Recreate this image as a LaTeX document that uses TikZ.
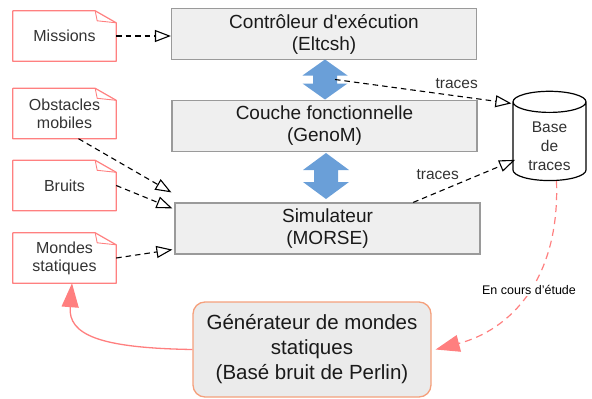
\documentclass[tikz,border=0pt]{standalone}
\usepackage{fontspec}
\setmainfont{Liberation Sans}[Ligatures=TeXOff]
\usetikzlibrary{arrows.meta,shapes.geometric,calc}
\definecolor{boxfill}{HTML}{EFEFEF}
\definecolor{boxline}{HTML}{9A9A9A}
\definecolor{notered}{HTML}{FF8080}
\definecolor{curvered}{HTML}{FF7F7F}
\definecolor{genline}{HTML}{F5A07C}
\definecolor{genfill}{HTML}{EBEBEB}
\definecolor{arrowblue}{HTML}{6A9FD8}
\definecolor{txt}{HTML}{1A1A1A}
\definecolor{notetxt}{HTML}{333333}
\begin{document}
\begin{tikzpicture}[x=1pt,y=-1pt,
  layerbox/.style={draw=boxline, fill=boxfill, line width=1.2pt, minimum width=305pt, minimum height=51pt, align=center, font=\fontsize{19}{22}\selectfont, text=txt, inner sep=0pt},
  notebox/.style={minimum width=103pt, minimum height=50pt, align=center, font=\fontsize{16}{18}\selectfont, text=notetxt, inner sep=0pt},
  noteline/.style={draw=notered, line width=1.2pt, line join=round},
  dep/.style={draw=black, line width=1.1pt, dash pattern=on 5.5pt off 4pt, -{Triangle[open,length=16pt,width=12pt,line width=1.1pt]}},
  lbl/.style={font=\fontsize{15.5}{17}\selectfont, text=notetxt, inner sep=0pt},
  redtip/.style={-{Triangle[length=24pt,width=17pt]}},
  dblA/.pic={\fill[arrowblue] (0,-20) -- (22.5,-4) -- (12,-4) -- (12,4) -- (22.5,4) -- (0,20) -- (-22.5,4) -- (-12,4) -- (-12,-4) -- (-22.5,-4) -- cycle;},
  dblB/.pic={\fill[arrowblue] (0,-23) -- (23,-6) -- (12,-6) -- (12,6) -- (23,6) -- (0,23) -- (-23,6) -- (-12,6) -- (-12,-6) -- (-23,-6) -- cycle;}
]
\useasboundingbox (0,0) rectangle (592,399);

% layer boxes
\node[layerbox] (ctrl) at (324,34) {Contrôleur d'exécution\\(Eltcsh)};
\node[layerbox] (geno) at (324.5,126) {Couche fonctionnelle\\(GenoM)};
\node[layerbox] (sim) at (327.5,228.5) {Simulateur\\(MORSE)};

% double arrows
\coordinate (a1) at (325,79.5);
\coordinate (a2) at (326,176);
\pic at (a1) {dblA};
\pic at (a2) {dblB};

% notes
\node[notebox] (mis) at (64.5,36) {Missions};
\node[notebox] (obs) at (64.5,113.5) {Obstacles\\mobiles};
\node[notebox] (bru) at (64.5,185.5) {Bruits};
\node[notebox] (mon) at (64.5,258) {Mondes\\statiques};
\foreach \n in {mis,obs,bru,mon}{
  \draw[noteline] (\n.north west) -- ([xshift=-21pt]\n.north east) -- ([yshift=-12pt]\n.north east) -- (\n.south east) -- (\n.south west) -- cycle;
  \draw[noteline, line width=0.9pt] ([xshift=-21pt]\n.north east) -- ([xshift=-19pt,yshift=-10pt]\n.north east) -- ([yshift=-12pt]\n.north east);
}

% database
\node[cylinder, shape border rotate=90, draw=black, line width=1.2pt, fill=white, minimum width=73pt, minimum height=87pt, aspect=0.5, inner sep=0pt, text=notetxt, font=\fontsize{15.5}{19}\selectfont] (db) at (549.5,141.5)
  {\raisebox{-6.5pt}[\height][\depth]{\begin{tabular}{@{}c@{}}Base\\de\\traces\end{tabular}}};

% generator
\node[draw=genline, fill=genfill, rounded corners=12pt, line width=1.3pt, minimum width=238pt, minimum height=95pt, align=center, font=\fontsize{20.5}{25}\selectfont, text=txt] (gen) at (312,349.5) {Générateur de mondes\\statiques\\(Basé bruit de Perlin)};

% dependency arrows
\draw[dep] (mis.east) -- (mis.east -| ctrl.west);
\draw[dep] ([xshift=14pt]obs.south) -- ([shift={(-3pt,10pt)}]sim.north west);
\draw[dep] (bru.east) -- ([shift={(-2pt,-6pt)}]sim.north west);
\draw[dep] (mon.east) -- ([shift={(-2pt,5pt)}]sim.south west);

% traces
\draw[dep] ([xshift=10pt]a1) -- ([shift={(-1pt,1pt)}]db.north west) node[lbl, pos=0.69, above=7pt] {traces};
\draw[dep] ($(sim.north west)!0.78!(sim.north east)$) -- ([shift={(-1pt,15pt)}]db.south west) node[lbl, pos=0.24, above=12pt] {traces};

% red curves
\draw[curvered, line width=1.3pt, redtip] (gen.west) .. controls (100,348) and (68,335) .. ([xshift=7.5pt]mon.south);
\draw[curvered, line width=1.2pt, dash pattern=on 7pt off 5pt, redtip] ([xshift=7pt]db.south) .. controls (560,280) and (510,330) .. ([xshift=4pt]gen.east) node[pos=0.47, fill=white, text=black, inner sep=1pt, font=\fontsize{12.5}{14}\selectfont] {En cours d’étude};
\end{tikzpicture}
\end{document}
